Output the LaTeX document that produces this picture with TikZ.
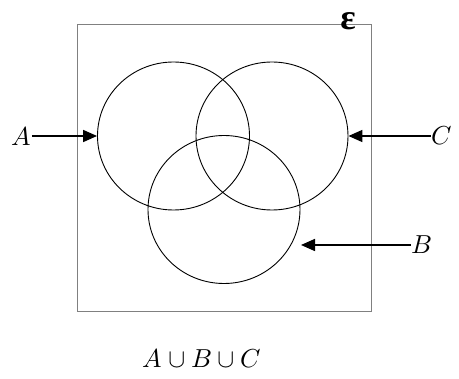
\documentclass[tikz,border=0pt]{standalone}
\usepackage{fontspec}
\usepackage{unicode-math}
\newfontfamily\greekfont{Liberation Serif}
\usepackage{tikz}
\usetikzlibrary{positioning, arrows.meta, shapes.geometric}

\begin{document}
\begin{tikzpicture}[x=1pt, y=-1pt,
    setcircle/.style={ellipse, draw, line width=0.9pt, minimum width=152pt, minimum height=148pt, inner sep=0pt},
    universe/.style={rectangle, draw=gray, line width=0.9pt, minimum width=294pt, minimum height=287pt, inner sep=0pt},
    setlabel/.style={inner sep=1pt, font=\fontsize{26}{30}\selectfont},
    arrow/.style={-{Triangle[length=14pt, width=12pt]}, line width=1.6pt}
]
\useasboundingbox (0,0) rectangle (459,379);

\node[universe] (univ) at (224,167.5) {};
\node[font=\greekfont\bfseries\fontsize{36}{38}\selectfont, inner sep=0pt] (eps) at (348,21) {ε};

\node[setcircle] (setA) at (173.5,136) {};
\node[setcircle] (setC) at (272,136) {};
\node[setcircle] (setB) at (224,209.5) {};

\node[setlabel] (labA) at (21,136) {$A$};
\node[setlabel] (labC) at (442,136) {$C$};
\node[setlabel] (labB) at (422,245) {$B$};
\coordinate (tipB) at (301,245);

\draw[arrow] (labA.east) -- (setA.west);
\draw[arrow] (labC.west) -- (setC.east);
\draw[arrow] (labB.west) -- (tipB);

\node[setlabel] (union) at (202,358) {$A\cup B\cup C$};

\end{tikzpicture}
\end{document}
